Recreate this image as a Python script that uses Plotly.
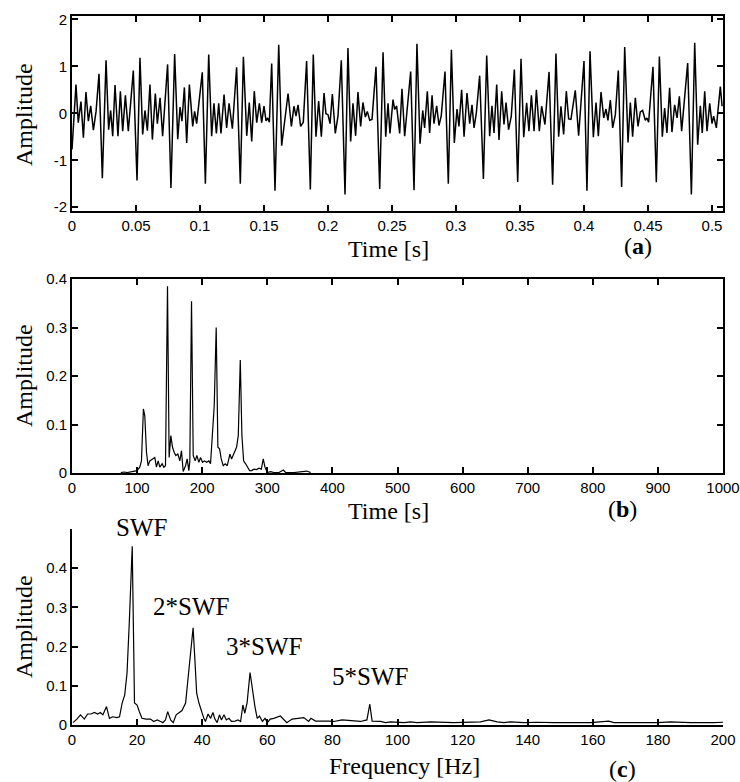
import plotly.graph_objects as go

# ---------------- Panel (a): time signal (times in ms) ----------------
time_ms = [0, 3.1, 4.9, 7.0, 8.9, 10.9, 12.8, 14.6, 16.7, 18.8, 21.1, 23.7, 26.6, 28.6, 30.2, 31.8, 33.6, 35.9, 37.8, 39.6,
           41.7, 44.0, 47.9, 50.8, 53.1, 55.2, 57.0, 58.9, 60.9, 62.8, 65.1, 66.7, 68.8, 70.8, 74.7, 77.3, 80.2, 82.6, 84.4, 85.9,
           87.8, 89.6, 91.7, 94.3, 95.8, 97.4, 101.8, 104.2, 106.8, 109.1, 110.9, 112.8, 114.6, 116.4, 118.8, 120.8, 122.7, 125.3,
           128.6, 131.5, 133.9, 136.5, 138.5, 140.4, 142.4, 144.3, 146.4, 148.2, 150.0, 151.6, 152.9, 154.2, 156.0, 158.6, 161.5,
           163.8, 168.8,
           171.4, 173.4, 175.0, 176.6, 178.6, 180.7, 183.3, 186.2, 188.5, 190.6, 192.7, 194.8, 196.9, 198.4, 200.0, 201.6, 203.4,
           205.7, 207.8, 210.4, 213.3, 215.6, 217.7, 219.5, 221.6, 223.4, 225.5, 227.3, 229.2, 230.7, 232.6, 234.4, 237.5, 240.4,
           243.0, 245.1, 246.9, 248.4, 250.8, 252.1, 253.6, 256.0, 257.8, 259.9, 264.6, 267.2, 269.5, 271.9, 274.0, 275.5, 277.6,
           279.4, 281.3, 282.8, 284.9, 286.7, 288.5, 291.4, 294.0, 296.4, 298.7, 300.8, 302.3, 304.4, 306.3, 308.6, 310.7, 312.5,
           314.1, 315.9, 318.5, 321.4, 324.0, 326.3, 328.1, 329.7, 331.8, 333.6, 335.7, 337.5, 339.1,
           341.1, 343.2, 345.6, 348.2, 350.8, 352.9, 355.2, 357.0, 358.9, 361.0, 362.8, 365.1, 366.9, 369.5, 372.7, 375.5, 378.1,
           380.2, 382.0, 384.1, 386.2, 388.0, 389.8, 393.2, 395.8, 400.0, 402.3, 404.7, 407.3, 409.4, 411.2, 413.3, 415.4, 417.2,
           418.7, 420.6, 422.4, 424.5, 426.8, 429.4, 431.8, 434.4, 436.2, 438.0, 440.1, 442.2, 444.0, 445.8, 447.9, 449.2, 450.5,
           453.9, 456.5, 458.9, 461.2, 463.0, 464.8, 466.9, 468.7, 470.8, 472.7, 474.5, 476.3, 481.0, 483.9, 486.5, 488.8, 490.9,
           492.4, 494.3, 496.1, 498.2, 500.0, 501.3, 503.4, 506.5, 507.9]
amp_a = [-0.77, 0.61, -0.2, 0.25, -0.52, 0.45, -0.17, 0.16, -0.36, 0.04, 0.84, -1.38, 1.13, -0.35, 0.06, -0.49, 0.6, -0.49, 0.47, -0.38,
         0.38, -0.38, 0.91, -1.43, 1.18, -0.45, 0.06, -0.37, 0.61, -0.56, 0.42, -0.22, 0.33, -0.49, 1.04, -1.59, 1.26, -0.55, 0.13, -0.17,
         0.55, -0.63, 0.61, -0.28, 0.04, -0.22, 0.87, -1.5, 1.25, -0.49, 0.21, -0.43, 0.21, -0.43, 0.4, -0.31, 0.21, -0.33,
         0.98, -1.5, 1.2, -0.48, 0.23, -0.6, 0.47, -0.2, 0.21, -0.2, 0.15, -0.16, -0.1, -0.19, 1.06, -1.65, 1.46,
         -0.69, 0.42,
         -0.28, 0.15, -0.06, 0.18, -0.28, -0.19, 1.11, -1.62, 1.25, -0.5, 0.26, -0.5, 0.43, -0.01, -0.03, -0.22, 0.41,
         -0.43, -0.06, 1.13, -1.73, 1.39, -0.6, 0.21, -0.48, 0.45, -0.28, 0.23, -0.08, 0.04, -0.15, -0.13, 0.99, -1.61,
         1.3, -0.5, 0.21, -0.43, 0.29, 0.08, 0.16, -0.43, 0.52, -0.49, 0.89, -1.64, 1.48, -0.65, 0.06, -0.31, 0.47,
         -0.42, 0.38, -0.22, 0.16, -0.26, -0.05, 0.89, -1.5, 1.35, -0.63, 0.09, -0.28, 0.5, -0.5, 0.43, -0.22, 0.18,
         -0.31, 0.01, 0.8, -1.4, 1.23, -0.49, 0.16, -0.42, 0.61, -0.57, 0.47, -0.24, 0.23,
         -0.35, -0.06, 0.93, -1.46, 1.16, -0.51, 0.22, -0.38, 0.38, -0.38, 0.5, -0.38, 0.15, -0.24, 0.88, -1.52, 1.27,
         -0.5, 0.15, -0.45, 0.47, -0.12, -0.13, 0.49, -0.48, 1.11, -1.65, 1.32, -0.51, 0.23, -0.49, 0.45, -0.1, 0.09,
         -0.15, 0.28, -0.31, -0.03, 0.91, -1.57, 1.41, -0.62, 0.23, -0.5, 0.33, -0.28, 0.03, 0.06, -0.15, -0.1, -0.19,
         0.99, -1.47, 1.21, -0.5, 0.11, -0.42, 0.54, -0.4, 0.18, -0.1, 0.36, -0.38, 1.07, -1.73, 1.5, -0.67, 0.16,
         -0.42, 0.47, -0.38, 0.21, -0.22, -0.06, -0.31, 0.57, 0.15]
time_s = [t / 1000.0 for t in time_ms]

# ---------------- Panel (b) ----------------
x_b = [75, 80, 85, 90, 94.9, 100, 104.1, 106.7, 109.7, 111.8, 114.4, 116.9, 119.5, 123.1, 127.2, 129.7, 132.3, 134.9, 138.5,
       141.0, 143.6, 146.7, 149.2, 151.8, 154.4, 156.9, 159.5, 162.6, 165.6, 168.2, 170.8, 174.4, 176.9, 179.5, 181.0, 183.6,
       186.2, 189.2, 191.8, 194.9, 197.4, 200.5, 203.6, 206.7, 210.3, 212.8, 215.9, 218.5, 221.5, 224.1, 226.7, 229.2, 232.3,
       235.4, 238.5, 242.6, 245.1, 247.7, 250.3, 252.8, 255.4, 258.5, 261.0, 263.6, 266.7, 269.2, 272.8, 275.9, 279.5, 283.6,
       287.2, 290.8, 293.8, 296.4, 300.0, 305.1, 310.3, 317.9, 324.6, 328.2, 341.0, 360.5, 366.7]
amp_b = [0.001, 0.002, 0.001, 0.002, 0.003, 0.005, 0.012, 0.025, 0.132, 0.118, 0.043, 0.015, 0.025, 0.029, 0.032, 0.012, 0.025,
         0.012, 0.019, 0.012, 0.015, 0.385, 0.032, 0.077, 0.053, 0.043, 0.036, 0.039, 0.025, 0.046, 0.003, 0.015, 0.029, 0.005,
         0.025, 0.354, 0.036, 0.025, 0.036, 0.022, 0.032, 0.022, 0.025, 0.022, 0.025, 0.019, 0.084, 0.139, 0.3, 0.053, 0.05,
         0.029, 0.015, 0.019, 0.015, 0.039, 0.029, 0.036, 0.046, 0.053, 0.077, 0.233, 0.077, 0.025, 0.019, 0.012, 0.005, 0.005,
         0.008, 0.007, 0.01, 0.008, 0.029, 0.012, 0.001, 0.003, 0.001, 0.001, 0.006, 0.001, 0.001, 0.004, 0.001]

# ---------------- Panel (c): spectrum ----------------
freq_c = [0.3, 1.5, 2.6, 3.8, 4.8, 5.8, 6.9, 7.9, 8.7, 9.5, 10.6, 11.5, 12.5, 13.8, 14.6, 15.4, 16.2, 16.9, 17.6, 18.5, 19.2,
          20.0, 20.7, 21.5, 22.8, 24.1, 25.1, 26.2, 27.2, 27.9, 28.7, 29.4, 30.3, 31.1, 32.0, 32.8, 33.8, 34.9, 35.9, 36.7,
          37.2, 37.7, 38.3, 39.0, 39.8, 40.5, 41.0, 41.8, 42.6, 43.3, 43.9, 44.6, 45.3, 45.9, 46.7, 47.4, 48.2, 49.0, 50.1,
          51.0, 51.8, 52.5, 53.1, 53.8, 54.7, 55.4, 56.2, 56.9, 57.6, 58.5, 59.3, 60.0, 60.9, 62.0, 64.0, 66.0, 67.6, 71.2,
          72.7, 73.4, 74.8, 78.9, 80.4, 83.0, 88.6, 90.6, 91.5, 92.2, 94.8, 96.3, 97.9, 102.0, 104.0, 106.0, 110.2, 117.3,
          122.4, 125.5, 128.1, 130.6, 132.7, 134.7, 138.8, 142.9, 148.0, 153.2, 159.3, 164.9, 166.5, 173.7, 179.8, 183.9,
          190.0, 197.2, 200.0]
amp_c = [0.006, 0.015, 0.026, 0.015, 0.028, 0.028, 0.032, 0.028, 0.032, 0.026, 0.047, 0.017, 0.021, 0.019, 0.021, 0.056, 0.077,
         0.132, 0.261, 0.456, 0.056, 0.051, 0.034, 0.017, 0.015, 0.015, 0.009, 0.013, 0.009, 0.006, 0.013, 0.034, 0.013, 0.006,
         0.026, 0.03, 0.037, 0.056, 0.141, 0.209, 0.248, 0.175, 0.081, 0.056, 0.034, 0.017, 0.009, 0.028, 0.017, 0.032, 0.015,
         0.006, 0.026, 0.013, 0.026, 0.013, 0.017, 0.009, 0.01, 0.013, 0.009, 0.051, 0.03, 0.057, 0.134, 0.09, 0.047, 0.017,
         0.023, 0.009, 0.017, 0.006, 0.015, 0.017, 0.023, 0.006, 0.015, 0.019, 0.009, 0.017, 0.01, 0.01, 0.009, 0.013, 0.009,
         0.013, 0.053, 0.01, 0.009, 0.006, 0.008, 0.006, 0.008, 0.006, 0.008, 0.006, 0.008, 0.008, 0.013, 0.008, 0.006, 0.008,
         0.006, 0.007, 0.006, 0.006, 0.006, 0.01, 0.006, 0.006, 0.006, 0.008, 0.006, 0.006, 0.007]

harmonic_labels = ["SWF", "2*SWF", "3*SWF", "5*SWF"]

assert len(time_ms) == len(amp_a)
assert len(x_b) == len(amp_b)
assert len(freq_c) == len(amp_c)

W, H = 740, 782
SERIF = "Liberation Serif, Times New Roman, serif"
SANS = "Liberation Sans, Arial, Helvetica, sans-serif"


def px_x(p):
    return p / W


def px_y(p):
    return 1 - p / H


fig = go.Figure()
fig.add_trace(go.Scatter(x=time_s, y=amp_a, mode="lines", line=dict(color="black", width=1.5),
                         xaxis="x", yaxis="y", showlegend=False))
fig.add_trace(go.Scatter(x=x_b, y=amp_b, mode="lines", line=dict(color="black", width=1.2),
                         xaxis="x2", yaxis="y2", showlegend=False))
fig.add_trace(go.Scatter(x=freq_c, y=amp_c, mode="lines", line=dict(color="black", width=1.2),
                         xaxis="x3", yaxis="y3", showlegend=False))

common = dict(showline=True, linecolor="black", linewidth=2, ticks="inside", ticklen=6, tickwidth=2,
              tickcolor="black", showgrid=False, zeroline=False, automargin=False,
              tickfont=dict(family=SANS, size=15, color="black"))
xdom = [px_x(72), px_x(723)]

fig.update_layout(
    width=W, height=H, margin=dict(l=0, r=0, t=0, b=0, autoexpand=False),
    paper_bgcolor="white", plot_bgcolor="white",
    xaxis=dict(domain=xdom, range=[0, 0.5086], tickmode="linear", tick0=0, dtick=0.05, mirror="ticks",
               anchor="y", **common),
    yaxis=dict(domain=[px_y(211), px_y(16)], range=[-2.08, 2.07], tickvals=[-2, -1, 0, 1, 2],
               ticktext=["-2", "-1", "0", "1", "2"], mirror="ticks", anchor="x", **common),
    xaxis2=dict(domain=xdom, range=[0, 1000], tickmode="linear", tick0=0, dtick=100, mirror="ticks",
                anchor="y2", **common),
    yaxis2=dict(domain=[px_y(473), px_y(279)], range=[0, 0.4], tickvals=[0, 0.1, 0.2, 0.3, 0.4],
                mirror="ticks", anchor="x2", **common),
    xaxis3=dict(domain=xdom, range=[0, 200], tickmode="linear", tick0=0, dtick=20, anchor="y3", **common),
    yaxis3=dict(domain=[px_y(725), px_y(529)], range=[0, 0.5], tickvals=[0, 0.1, 0.2, 0.3, 0.4],
                anchor="x3", **common),
)


def label(text, xp, yp, size=24, angle=0):
    return dict(text=text, x=px_x(xp), y=px_y(yp), xref="paper", yref="paper", textangle=angle,
                showarrow=False, xanchor="center", yanchor="middle",
                font=dict(family=SERIF, size=size, color="black"))


ann = []
for yc in [115, 376, 627]:
    ann.append(label("Amplitude", 24, yc, angle=-90))
ann.append(label("Time [s]", 388.5, 249))
ann.append(label("(<b>a</b>)", 638, 246))
ann.append(label("Time [s]", 388.5, 511))
ann.append(label("(<b>b</b>)", 622, 509))
ann.append(label("Frequency [Hz]", 404.5, 766))
ann.append(label("(<b>c</b>)", 622, 769))
for lab, (lx, ly) in zip(harmonic_labels, [(141.7, 527), (191, 606), (264, 646), (369.5, 676.5)]):
    ann.append(label(lab, lx, ly, size=25))
fig.update_layout(annotations=ann)

fig.write_html("out.html")
